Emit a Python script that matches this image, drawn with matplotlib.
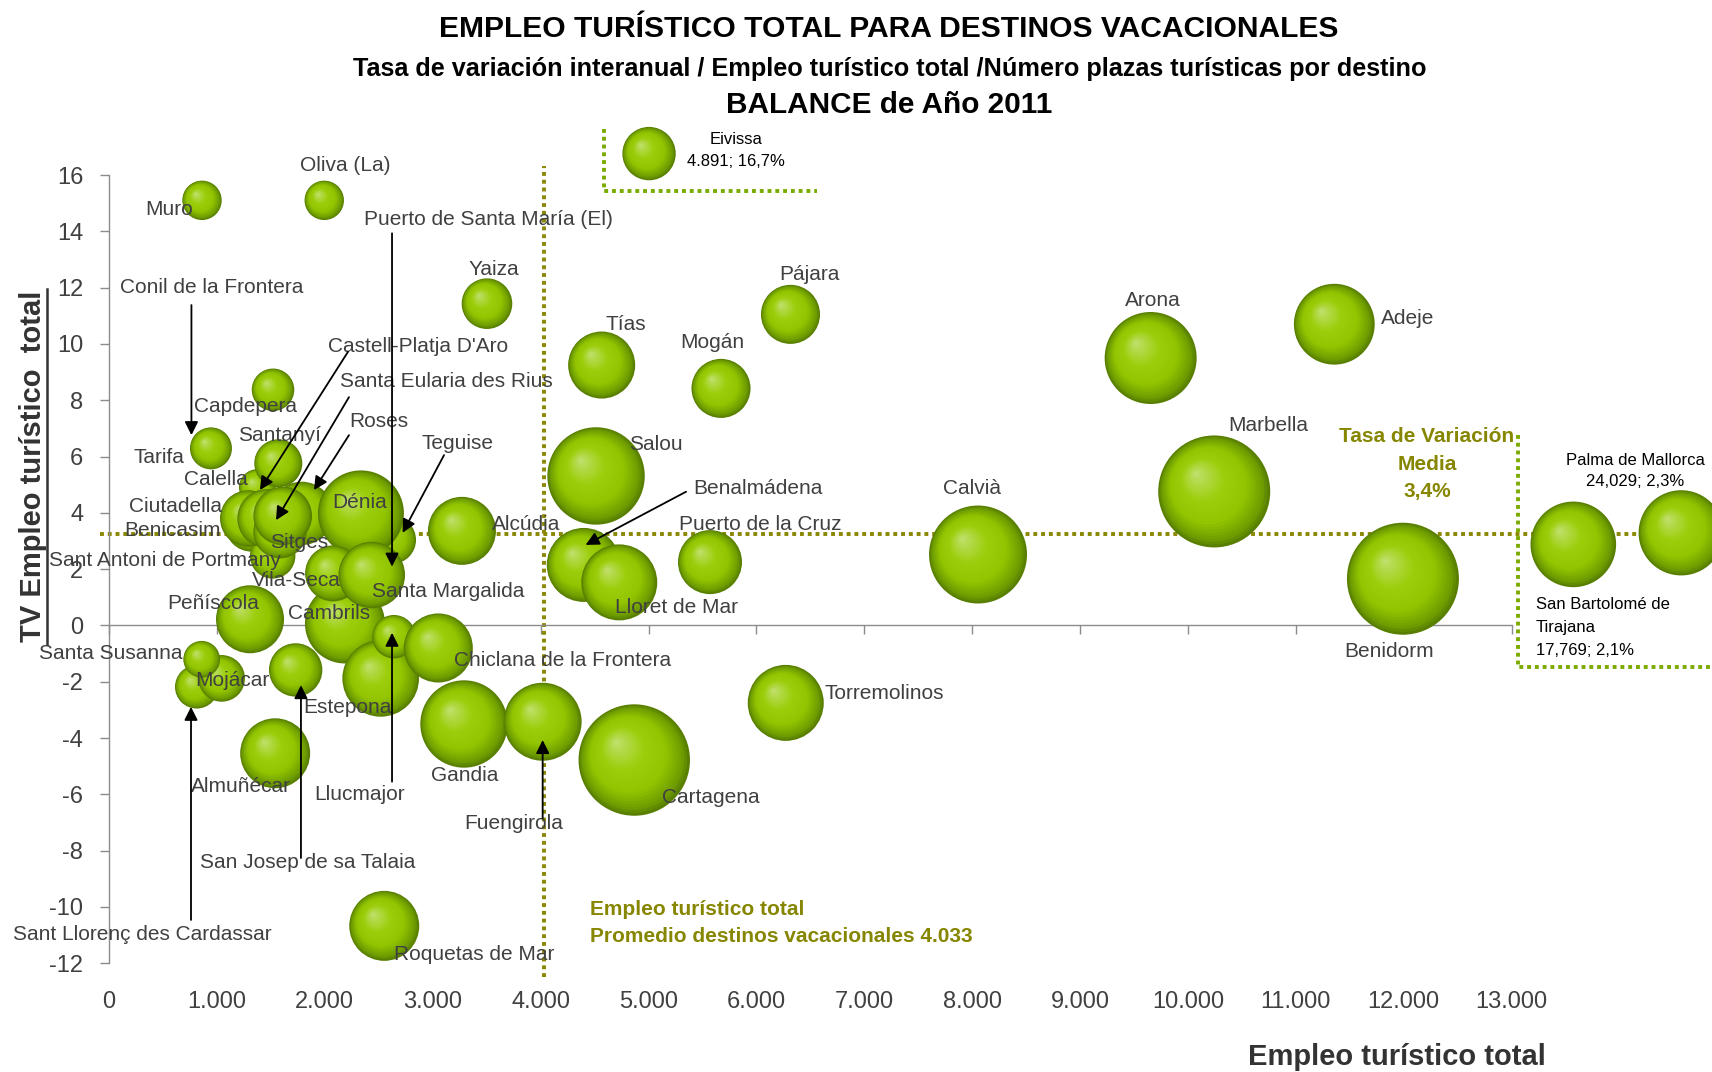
import numpy as np
import matplotlib
matplotlib.use("Agg")
import matplotlib.pyplot as plt
from matplotlib.colors import to_rgb
from matplotlib.lines import Line2D

plt.rcParams['font.family'] = ['Liberation Sans', 'DejaVu Sans']

# ---------------- data ----------------
destinos = ["Muro", "Oliva (La)", "Yaiza", "Capdepera", "Tarifa", "Roses", "Calella",
            "Benicasim", "Sant Antoni de Portmany", "Ciutadella", "Castell-Platja D'Aro",
            "Sitges", "Santa Eularia des Rius", "Santanyí", "Teguise", "Dénia", "Cambrils",
            "Vila-Seca", "Santa Margalida", "Peñíscola", "Estepona", "Llucmajor", "Chiclana de la Frontera",
            "Sant Llorenç des Cardassar", "Mojácar", "Santa Susanna", "San Josep de sa Talaia",
            "Almuñécar", "Roquetas de Mar", "Gandia", "Fuengirola", "Cartagena", "Torremolinos",
            "Alcúdia", "Salou", "Benalmádena", "Lloret de Mar", "Puerto de la Cruz", "Calvià",
            "Marbella", "Benidorm", "Arona", "Adeje", "Pájara", "Mogán", "Tías", "Eivissa",
            "San Bartolomé de Tirajana", "Palma de Mallorca"]
# employment (x, as plotted)
empleo = [862, 1995, 3503, 1520, 945, 1786, 1375,
          1322, 1517, 1291, 1461,
          1585, 1610, 1569, 2623, 2335, 2187,
          2077, 2435, 1307, 2518, 2641, 3052,
          813, 1044, 859, 1730,
          1540, 2551, 3290, 4019, 4868, 6272,
          3271, 4514, 4400, 4729, 5570, 8054,
          10243, 11992, 9654, 11356, 6316, 5672, 4566, 5005,
          13571, 14571]
# TV empleo turistico (y, %)
tasa = [15.1, 15.1, 11.43, 8.37, 6.29, 3.98, 4.9,
        3.57, 2.47, 3.8, 3.8,
        3.33, 3.89, 5.76, 3.04, 3.98, 0.07,
        1.85, 1.79, 0.22, -1.88, -0.4, -0.8,
        -2.18, -1.88, -1.2, -1.58,
        -4.54, -10.67, -3.5, -3.42, -4.78, -2.75,
        3.36, 5.31, 2.15, 1.53, 2.25, 2.52,
        4.76, 1.66, 9.5, 10.7, 11.05, 8.42, 9.25, 16.76,
        2.88, 3.29]
# numero de plazas turisticas (miles, bubble area)
plazas = [9.7, 9.7, 16.0, 11.3, 11.0, 25.1, 8.4,
          17.8, 12.9, 20.0, 21.5,
          17.8, 21.5, 14.4, 14.4, 46.2, 40.0,
          19.6, 27.7, 28.9, 36.7, 11.8, 29.8,
          11.8, 13.6, 8.4, 17.8,
          30.6, 30.6, 47.7, 38.0, 77.6, 36.1,
          28.9, 59.3, 34.2, 36.1, 25.6, 60.0,
          78.4, 78.4, 52.9, 40.8, 21.8, 21.8, 28.1, 17.8,
          45.8, 45.4]

media_empleo = 4033
media_tasa = 3.25  # drawn position of the 3,4% line

x_ticks = list(range(0, 13001, 1000))
x_ticklabels = ["0"] + [f"{v // 1000}.000" for v in x_ticks[1:]]
y_ticks = list(range(-12, 17, 2))

# labels: (text, x, y)
etiquetas = [
    ("Muro", 560, 14.77), ("Oliva (La)", 2187, 16.32), ("Puerto de Santa María (El)", 3512, 14.42),
    ("Yaiza", 3563, 12.64), ("Conil de la Frontera", 953, 12.02), ("Castell-Platja D'Aro", 2865, 9.92),
    ("Santa Eularia des Rius", 3128, 8.68), ("Capdepera", 1266, 7.79), ("Santanyí", 1580, 6.74),
    ("Roses", 2501, 7.25), ("Teguise", 3229, 6.47), ("Tarifa", 467, 5.97), ("Calella", 993, 5.19),
    ("Ciutadella", 619, 4.22), ("Dénia", 2319, 4.38), ("Benicasim", 589, 3.37), ("Sitges", 1762, 2.94),
    ("Alcúdia", 3867, 3.6), ("Sant Antoni de Portmany", 518, 2.32), ("Vila-Seca", 1732, 1.58),
    ("Santa Margalida", 3148, 1.19), ("Peñíscola", 963, 0.77), ("Cambrils", 2035, 0.42),
    ("Santa Susanna", 12, -0.98), ("Mojácar", 1145, -1.95), ("Chiclana de la Frontera", 4200, -1.25),
    ("Estepona", 2208, -2.92), ("Gandia", 3300, -5.32), ("Almuñécar", 1226, -5.71),
    ("Llucmajor", 2319, -6.02), ("Fuengirola", 3755, -7.03), ("San Josep de sa Talaia", 1843, -8.43),
    ("Sant Llorenç des Cardassar", 305, -10.99), ("Roquetas de Mar", 3381, -11.69),
    ("Tías", 4788, 10.7), ("Pájara", 6488, 12.48), ("Mogán", 5587, 10.04), ("Salou", 5071, 6.43),
    ("Benalmádena", 6012, 4.88), ("Puerto de la Cruz", 6032, 3.6), ("Lloret de Mar", 5263, 0.65),
    ("Torremolinos", 7186, -2.41), ("Cartagena", 5577, -6.1), ("Calvià", 7995, 4.88),
    ("Arona", 9675, 11.55), ("Adeje", 12032, 10.89), ("Marbella", 10747, 7.09), ("Benidorm", 11860, -0.94),
]
# arrows: (x_from, y_from, x_to, y_to)
flechas = [
    (764, 11.38, 764, 6.76), (2623, 13.93, 2623, 2.09), (2215, 9.72, 1399, 4.81),
    (2224, 8.11, 1548, 3.74), (2224, 6.76, 1900, 4.81), (3105, 6.05, 2721, 3.29),
    (5348, 4.75, 4417, 2.86), (2623, -5.55, 2623, -0.26), (4019, -6.84, 4019, -4.07),
    (1779, -8.26, 1779, -2.12), (760, -10.46, 760, -2.89),
]

# ---------------- figure ----------------
W, H, DPI = 1712, 1072, 100
fig = plt.figure(figsize=(W / DPI, H / DPI), dpi=DPI)
fig.patch.set_facecolor('white')

ax_left, ax_right, ax_top, ax_bot = 109, 1511.7, 175, 963.3
ax = fig.add_axes([ax_left / W, 1 - ax_bot / H, (ax_right - ax_left) / W, (ax_bot - ax_top) / H])
ax.set_xlim(0, 13000)
ax.set_ylim(-12, 16)
ax.set_facecolor('none')

axis_col = '#8c8c8c'
txt_col = '#404040'
for s in ['top', 'right']:
    ax.spines[s].set_visible(False)
ax.spines['left'].set_color(axis_col)
ax.spines['bottom'].set_color(axis_col)
ax.spines['left'].set_linewidth(1.0)
ax.spines['bottom'].set_linewidth(1.0)
ax.spines['bottom'].set_position(('data', 0))
ax.set_xticks(x_ticks)
ax.set_xticklabels(x_ticklabels)
ax.set_yticks(y_ticks)
ax.set_yticklabels([str(v) for v in y_ticks])
ax.tick_params(axis='x', direction='out', length=6.5, width=1.0, color=axis_col,
               labelsize=17, labelcolor=txt_col, pad=256.5)
ax.tick_params(axis='y', direction='out', length=6.5, width=1.0, color=axis_col,
               labelsize=17, labelcolor=txt_col, pad=12)

# px per data unit
ppx_x = (ax_right - ax_left) / 13000.0
ppx_y = (ax_bot - ax_top) / 28.0

# gradient bubbles
stops = [(0.0, '#587f00'), (0.08, '#6e9c00'), (0.30, '#92c400'), (0.60, '#9dce0c'),
         (0.85, '#b4da4c'), (1.0, '#c4e274')]
st_t = np.array([s[0] for s in stops])
st_c = np.array([to_rgb(s[1]) for s in stops])
N = 26
ts = np.linspace(0, 0.97, N)
cols = np.stack([np.interp(ts, st_t, st_c[:, k]) for k in range(3)], axis=1)
SCALE = 40.0  # px^2 per thousand plazas

for i, (x, y, p) in enumerate(zip(empleo, tasa, plazas)):
    r_px = np.sqrt(p * SCALE)
    radii = r_px * (1 - ts)
    xs = x - 0.33 * ts * r_px / ppx_x
    ys = y + 0.33 * ts * r_px / ppx_y
    s = (2 * radii * 72 / DPI) ** 2
    ax.scatter(xs, ys, s=s, c=cols, edgecolors='none', zorder=3 + i * 0.001, clip_on=False)

# mean lines
olive = '#8a8700'
green_box = '#7aab00'
dot = dict(linestyle=(0, (1, 1)), linewidth=2.8, dash_capstyle='butt', clip_on=False)
ax.plot([media_empleo, media_empleo], [-12.49, 16.32], color=olive, zorder=2.5, **dot)
ax.plot([-83, 14856], [media_tasa, media_tasa], color=olive, zorder=2.5, **dot)
# Eivissa box
ax.plot([4588, 4588, 6562], [17.63, 15.43, 15.43], color=green_box, zorder=2.5, **dot)
# Palma / San Bartolome box
ax.plot([13058, 13058, 14856], [6.75, -1.49, -1.49], color=green_box, zorder=2.5, **dot)

# labels
for t, x, y in etiquetas:
    ax.text(x, y, t, fontsize=15, color=txt_col, ha='center', va='center', zorder=20, clip_on=False)

for x0, y0, x1, y1 in flechas:
    ax.annotate('', xy=(x1, y1), xytext=(x0, y0), zorder=21, annotation_clip=False,
                arrowprops=dict(arrowstyle='-|>', color='black', lw=1.3, mutation_scale=20,
                                shrinkA=0, shrinkB=0))

small = dict(fontsize=12, color='black', va='center', zorder=20, clip_on=False)
ax.text(5809, 17.25, "Eivissa", ha='center', **small)
ax.text(5809, 16.47, "4.891; 16,7%", ha='center', **small)
ax.text(14147, 5.85, "Palma de Mallorca", ha='center', **small)
ax.text(14147, 5.11, "24,029; 2,3%", ha='center', **small)
for j, line in enumerate(["San Bartolomé de", "Tirajana", "17,769; 2,1%"]):
    ax.text(13226, 0.73 - 0.815 * j, line, ha='left', **small)

olive_txt = '#868600'
for j, line in enumerate(["Tasa de Variación", "Media", "3,4%"]):
    ax.text(12215, 6.70 - 0.97 * j, line, fontsize=15, fontweight='bold', color=olive_txt,
            ha='center', va='center', zorder=20, clip_on=False)
ax.text(4456, -10.09, "Empleo turístico total", fontsize=15, fontweight='bold', color=olive_txt,
        ha='left', va='center', zorder=20, clip_on=False)
ax.text(4456, -11.06, "Promedio destinos vacacionales 4.033", fontsize=15, fontweight='bold',
        color=olive_txt, ha='left', va='center', zorder=20, clip_on=False)

# titles
fig.text(889 / W, 1 - 29 / H, "EMPLEO TURÍSTICO TOTAL PARA DESTINOS VACACIONALES", fontsize=21.6,
         fontweight='bold', color='black', ha='center', va='center')
fig.text(890 / W, 1 - 69 / H,
         "Tasa de variación interanual / Empleo turístico total /Número plazas turísticas por destino",
         fontsize=18.2, fontweight='bold', color='black', ha='center', va='center')
fig.text(889 / W, 1 - 105 / H, "BALANCE de Año 2011", fontsize=21.4, fontweight='bold',
         color='black', ha='center', va='center')

# axis titles
fig.text(33 / W, 1 - 466 / H, "TV Empleo turístico  total", fontsize=21, fontweight='bold',
         color='#333333', rotation=90, ha='center', va='center')
fig.add_artist(Line2D([47 / W, 47 / W], [1 - 289 / H, 1 - 644 / H], color='#333333', lw=1.8))
fig.text(1397 / W, 1 - 1057 / H, "Empleo turístico total", fontsize=21, fontweight='bold',
         color='#333333', ha='center', va='center')

fig.savefig("out.png", dpi=DPI, facecolor='white')
